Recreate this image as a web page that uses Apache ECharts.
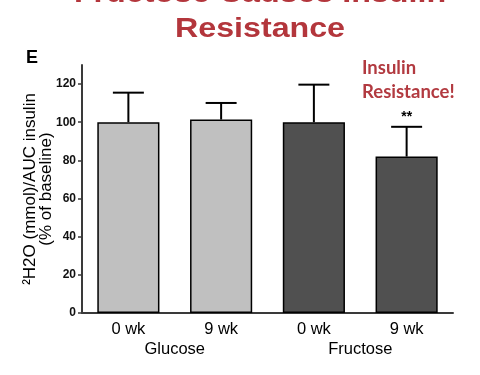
<!DOCTYPE html>
<html><head><meta charset="utf-8">
<script src="https://cdn.jsdelivr.net/npm/echarts@6/dist/echarts.min.js"></script>
<style>html,body{margin:0;padding:0;background:#fff}#c{width:480px;height:375px}</style>
</head><body><div id="c"></div>
<script>
var categories = ['0 wk', '9 wk', '0 wk', '9 wk'];
var groups = ['Glucose', 'Fructose'];
var values = [100, 101.4, 100, 82];
var errors = [15.5, 8.7, 19.7, 15.6];
var significance = ['', '', '', '**'];
var barColors = ['#c0c0c0', '#c0c0c0', '#505050', '#505050'];
var yTicks = [0, 20, 40, 60, 80, 100, 120];

var chart = echarts.init(document.getElementById('c'));
var axisCol = '#3a3a3a';
var titleFont = 'bold 28px "Liberation Sans", Arial';
chart.setOption({
  animation: false,
  grid: {left: 82, right: 27, top: 65, bottom: 62, outerBoundsMode: 'none', containLabel: false},
  graphic: [
    {type: 'text', x: 260, y: 8, scaleX: 1.15, style: {text: 'Fructose Causes Insulin', font: titleFont, fill: '#b3363c', textAlign: 'center', textVerticalAlign: 'bottom'}},
    {type: 'text', x: 260, y: 43, scaleX: 1.15, style: {text: 'Resistance', font: titleFont, fill: '#b3363c', textAlign: 'center', textVerticalAlign: 'bottom'}},
    {type: 'text', x: 26, y: 49, style: {text: 'E', font: 'bold 18px "Liberation Sans", Arial', fill: '#000'}},
    {type: 'text', x: 362, y: 56, style: {text: 'Insulin\nResistance!', font: 'bold 18.5px Lato', lineHeight: 24, fill: '#b23a40'}}
  ],
  xAxis: [{
    type: 'category', data: categories, position: 'bottom',
    axisLine: {lineStyle: {color: axisCol, width: 2}},
    axisTick: {alignWithLabel: true, length: 4, lineStyle: {color: axisCol, width: 1.5}},
    axisLabel: {color: '#000', fontSize: 16.5, fontFamily: '"Liberation Sans", Arial', margin: 8}
  }, {
    type: 'category', data: groups, position: 'bottom',
    axisLine: {show: false}, axisTick: {show: false},
    axisLabel: {color: '#000', fontSize: 16.5, fontFamily: '"Liberation Sans", Arial', margin: 28}
  }],
  yAxis: {
    type: 'value', min: 0, max: 130, interval: 20,
    name: '\u00B2H2O (mmol)/AUC insulin\n(% of baseline)',
    nameLocation: 'middle', nameRotate: 90, nameGap: 28, nameMoveOverlap: false,
    nameTextStyle: {color: '#000', fontSize: 17, fontFamily: '"Liberation Sans", Arial', lineHeight: 16},
    splitLine: {show: false},
    axisLine: {show: true, lineStyle: {color: axisCol, width: 2}},
    axisTick: {show: true, length: 4, customValues: yTicks, lineStyle: {color: axisCol, width: 1.5}},
    axisLabel: {customValues: yTicks, color: '#111', fontSize: 12, fontWeight: 'bold', fontFamily: '"Liberation Sans", Arial', margin: 6}
  },
  series: [{
    type: 'bar', barWidth: '67%',
    data: values.map(function (v, i) {
      return {value: v, itemStyle: {color: barColors[i], borderColor: '#000', borderWidth: 1.5}};
    }),
    z: 2
  }, {
    type: 'custom', z: 1,
    data: values.map(function (v, i) { return [i, v, v + errors[i]]; }),
    renderItem: function (params, api) {
      var i = api.value(0);
      var base = api.coord([i, api.value(1)]);
      var top = api.coord([i, api.value(2)]);
      var half = api.size([1, 0])[0] * 0.167;
      var children = [
        {type: 'line', shape: {x1: base[0], y1: base[1], x2: top[0], y2: top[1]}, style: {stroke: '#000', lineWidth: 2}},
        {type: 'line', shape: {x1: top[0] - half, y1: top[1], x2: top[0] + half, y2: top[1]}, style: {stroke: '#000', lineWidth: 2}}
      ];
      if (significance[i]) {
        children.push({type: 'text', x: top[0], y: top[1] - 3, style: {text: significance[i], font: 'bold 14px "Liberation Sans", Arial', fill: '#000', textAlign: 'center', textVerticalAlign: 'bottom'}});
      }
      return {type: 'group', children: children};
    }
  }]
});
</script></body></html>
